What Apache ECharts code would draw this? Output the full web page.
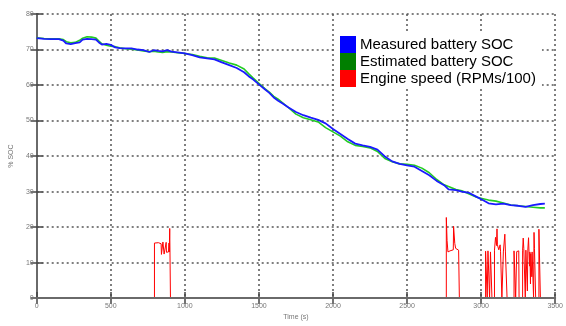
<!DOCTYPE html>
<html>
<head>
<meta charset="utf-8">
<script src="https://cdn.jsdelivr.net/npm/echarts@6/dist/echarts.min.js"></script>
<style>
  html, body { margin: 0; padding: 0; background: #fff; }
  #chart { width: 566px; height: 326px; }
</style>
</head>
<body>
<div id="chart"></div>
<script>
// Battery state of charge over a drive cycle, with engine speed bursts
const socTime = [0, 50, 100, 150, 180, 200, 230, 260, 290, 310, 340, 370, 400, 420, 440, 470, 500, 530, 560, 600,
  640, 680, 720, 760, 790, 820, 850, 880, 910, 950, 1000, 1050, 1100, 1150, 1200, 1250, 1300, 1350, 1400, 1430,
  1460, 1500, 1540, 1570, 1600, 1630, 1660, 1700, 1750, 1800, 1850, 1900, 1950, 2000, 2050, 2100, 2150, 2200, 2250, 2300,
  2350, 2400, 2450, 2500, 2550, 2600, 2650, 2700, 2750, 2780, 2830, 2870, 2920, 2970, 3020, 3050, 3100, 3150, 3200, 3250,
  3300, 3350, 3400, 3430];

const measuredSoc = [73.2, 73.0, 72.9, 72.9, 72.5, 71.7, 71.5, 71.8, 72.0, 72.8, 73.0, 72.9, 72.8, 72.0, 71.4, 71.6, 71.3, 70.6, 70.4, 70.3,
  70.3, 70.0, 69.8, 69.3, 69.8, 69.6, 69.5, 69.8, 69.4, 69.2, 68.9, 68.4, 67.8, 67.5, 67.2, 66.4, 65.6, 64.8, 63.6, 62.5,
  61.6, 60.2, 58.8, 57.8, 56.5, 55.6, 54.8, 53.7, 52.4, 51.5, 50.8, 50.2, 49.2, 47.6, 46.2, 44.8, 43.5, 43.0, 42.6, 41.8,
  39.9, 38.5, 37.8, 37.4, 37.0, 35.8, 34.6, 33.0, 31.8, 30.6, 30.4, 30.0, 29.6, 28.5, 27.4, 26.7, 26.4, 26.6, 26.2, 26.0,
  25.7, 26.2, 26.5, 26.6];

const estimatedSoc = [73.3, 73.1, 73.0, 73.0, 72.8, 72.2, 71.9, 72.0, 72.6, 73.2, 73.6, 73.5, 73.2, 72.4, 71.6, 71.2, 70.9, 70.8, 70.5, 70.2,
  70.1, 69.9, 69.6, 69.4, 69.5, 69.3, 69.2, 69.4, 69.3, 69.1, 68.9, 68.6, 68.1, 67.7, 67.6, 66.9, 66.2, 65.6, 64.5, 63.2,
  62.0, 60.5, 59.0, 58.0, 56.8, 56.0, 55.0, 53.6, 51.8, 50.8, 50.2, 49.6, 48.0, 46.8, 45.6, 44.0, 43.0, 42.7, 42.3, 41.3,
  39.3, 38.4, 37.8, 37.7, 37.4, 36.6, 35.3, 33.4, 31.9, 31.4, 30.6, 30.2, 29.3, 28.4, 27.9, 27.6, 27.3, 26.8, 26.2, 26.0,
  25.8, 25.6, 25.4, 25.4];

// Engine speed samples (RPM / 100)
const engineTime = [0, 795, 795, 822, 840, 842, 850, 852, 858, 860, 872, 874, 876, 890, 893, 895, 897, 898, 902, 903,
  2765, 2765, 2768, 2770, 2774, 2776, 2790, 2800, 2812, 2814, 2818, 2822, 2828, 2840, 2848, 2852, 2853,
  3030, 3030, 3040, 3041, 3046, 3046, 3056, 3057, 3063, 3063, 3072, 3073, 3090, 3090, 3096, 3097, 3101, 3104, 3107,
  3110, 3114, 3116, 3119, 3126, 3128, 3131, 3138, 3140, 3150, 3150, 3158, 3160, 3164, 3174, 3175,
  3222, 3222, 3232, 3233, 3240, 3240, 3254, 3256,
  3280, 3280, 3284, 3288, 3296, 3298, 3302, 3302, 3310, 3312, 3315, 3318, 3320, 3323, 3327, 3329, 3333, 3335, 3339,
  3342, 3344, 3350, 3354, 3357, 3357, 3360, 3366, 3368, 3390, 3390, 3398, 3400, 3430];
const engineRpm = [0, 0, 15.5, 15.6, 15.3, 12.3, 12.5, 15.8, 15.6, 12.4, 12.8, 15.7, 12.9, 13.0, 15.5, 13.0, 13.1, 19.6, 19.6, 0,
  0, 22.7, 22.5, 16.2, 16.0, 13.0, 13.3, 13.5, 13.6, 20.2, 20.0, 15.4, 14.0, 13.8, 13.5, 13.3, 0,
  0, 13.2, 13.4, 0, 0, 13.3, 13.1, 0, 0, 13.0, 13.2, 0, 0, 13.5, 13.6, 17.1, 16.8, 14.8, 19.5,
  15.0, 14.8, 15.2, 13.6, 13.4, 15.0, 13.2, 13.5, 0, 0, 13.0, 13.2, 18.0, 13.0, 13.1, 0,
  0, 13.3, 13.4, 0, 0, 13.1, 13.3, 0,
  0, 13.5, 16.9, 14.0, 13.8, 0, 0, 13.5, 13.4, 2, 13.5, 13.0, 17.0, 13.2, 9, 13.0, 4, 12.5, 13.0,
  6, 13.0, 12.5, 0, 0, 18.5, 14.0, 13.5, 0, 0, 19.4, 19.2, 0, 0];

const xTicks = { min: 0, max: 3500, step: 500 };
const yTicks = { min: 0, max: 80, step: 10 };

const zip = (a, b) => a.map((v, i) => [v, b[i]]);

const tickFont = { color: '#777', fontSize: 7, fontFamily: 'Liberation Sans, Arial, sans-serif' };
const axisLine = { show: true, lineStyle: { color: '#6a6a6a', width: 2 } };
const tickIn = { show: true, inside: true, length: 6, lineStyle: { color: '#444', width: 1.5 } };
const grid = { type: [2, 3], color: '#555', width: 1.5 };
const plain = v => String(v);

const chart = echarts.init(document.getElementById('chart'), null, { renderer: 'canvas' });
chart.setOption({
  animation: false,
  backgroundColor: '#fff',
  grid: { left: 35, right: 8, top: 14, bottom: 16, containLabel: false },
  legend: {
    orient: 'vertical',
    left: 336, top: 32,
    padding: [4, 6, 2, 4],
    backgroundColor: '#fff',
    itemWidth: 16, itemHeight: 17, itemGap: 0,
    icon: 'rect',
    textStyle: { color: '#000', fontSize: 15, fontFamily: 'Liberation Sans, Arial, sans-serif', padding: [0, 0, 0, -1] },
    data: [
      { name: 'Measured battery SOC', itemStyle: { color: '#0000ff' } },
      { name: 'Estimated battery SOC', itemStyle: { color: '#007f00' } },
      { name: 'Engine speed (RPMs/100)', itemStyle: { color: '#ff0000' } }
    ]
  },
  xAxis: [
    {
      type: 'value', min: xTicks.min, max: xTicks.max, interval: xTicks.step,
      name: 'Time (s)', nameLocation: 'middle', nameGap: 11,
      nameTextStyle: tickFont,
      axisLine: { show: false }, axisTick: tickIn,
      axisLabel: Object.assign({ margin: 4, formatter: plain }, tickFont),
      splitLine: { show: true, lineStyle: grid }
    },
    {
      type: 'value', position: 'top', min: xTicks.min, max: xTicks.max, interval: xTicks.step,
      axisLine: { show: true, lineStyle: { color: '#888', width: 1.5 } }, axisTick: tickIn,
      axisLabel: { show: false }, splitLine: { show: false }
    },
    {
      // bottom frame line drawn above the series
      type: 'value', position: 'bottom', min: xTicks.min, max: xTicks.max, z: 10,
      axisLine: axisLine, axisTick: { show: false },
      axisLabel: { show: false }, splitLine: { show: false }
    }
  ],
  yAxis: [
    {
      type: 'value', min: yTicks.min, max: yTicks.max, interval: yTicks.step,
      name: '% SOC', nameLocation: 'middle', nameGap: 15, nameRotate: 90,
      nameTextStyle: tickFont,
      axisLine: axisLine, axisTick: tickIn,
      axisLabel: Object.assign({ margin: 3, formatter: plain }, tickFont),
      splitLine: { show: true, lineStyle: grid }
    },
    {
      type: 'value', position: 'right', min: yTicks.min, max: yTicks.max, interval: yTicks.step,
      axisLine: axisLine, axisTick: tickIn,
      axisLabel: { show: false }, splitLine: { show: false }
    }
  ],
  series: [
    {
      name: 'Estimated battery SOC', type: 'line', showSymbol: false, z: 3,
      data: zip(socTime, estimatedSoc),
      lineStyle: { color: '#22cc22', width: 1.6 }, itemStyle: { color: '#007f00' }
    },
    {
      name: 'Measured battery SOC', type: 'line', showSymbol: false, z: 4,
      data: zip(socTime, measuredSoc),
      lineStyle: { color: '#1a1aff', width: 1.8 }, itemStyle: { color: '#0000ff' }
    },
    {
      name: 'Engine speed (RPMs/100)', type: 'line', showSymbol: false, z: 2,
      data: zip(engineTime, engineRpm),
      lineStyle: { color: '#ff0000', width: 1 }, itemStyle: { color: '#ff0000' }
    }
  ]
});
</script>
</body>
</html>
